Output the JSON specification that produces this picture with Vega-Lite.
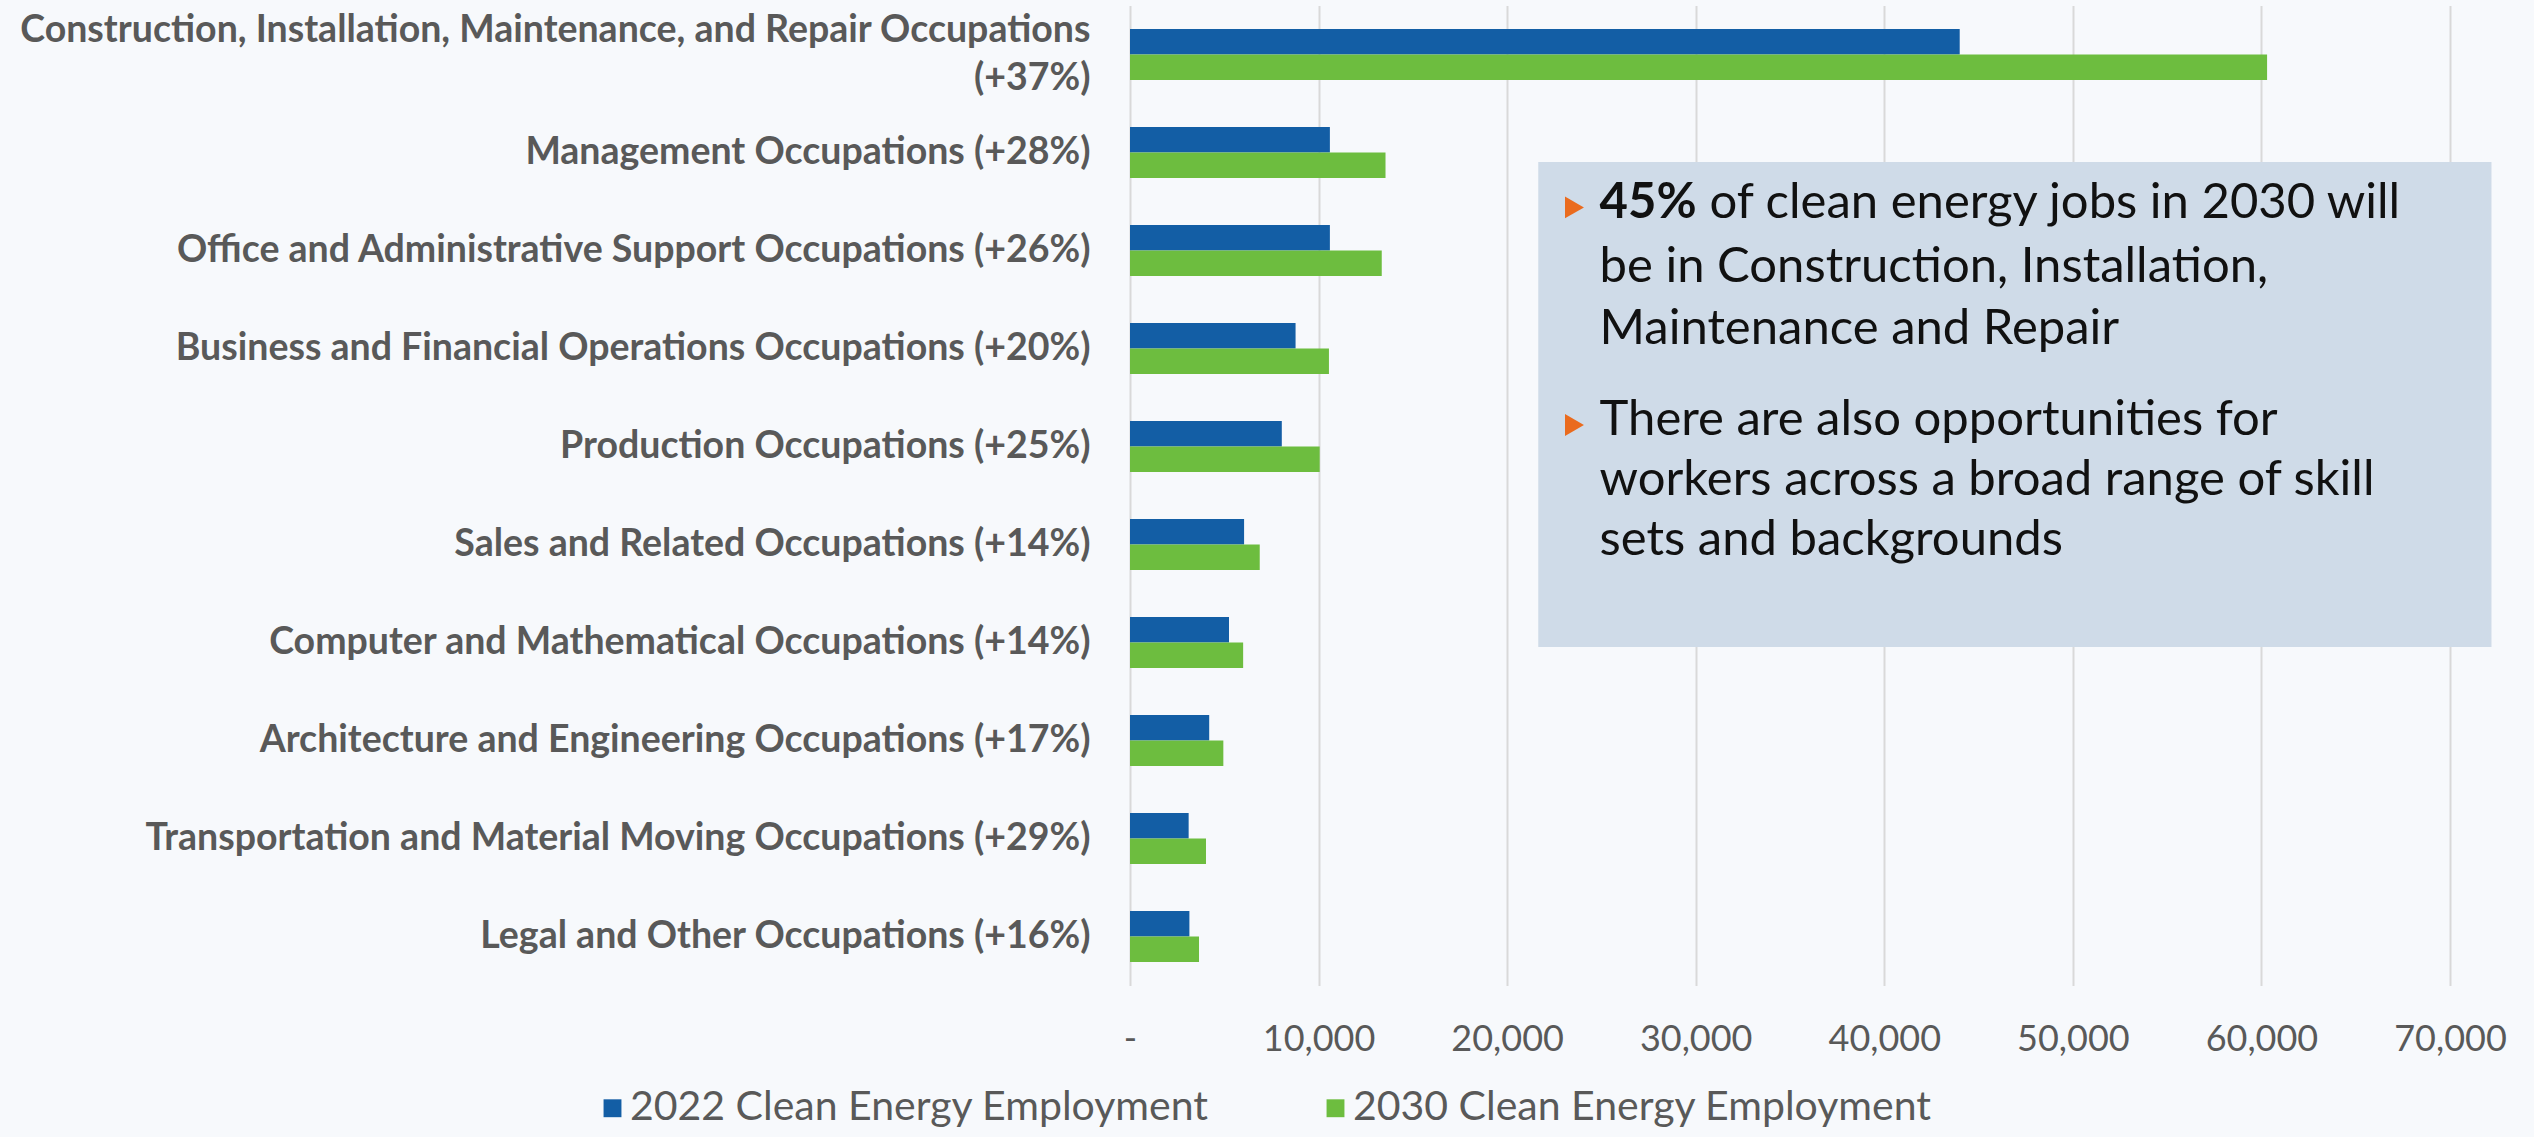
{
  "$schema": "https://vega.github.io/schema/vega-lite/v6.json",
  "width": 1320,
  "height": 980,
  "autosize": "none",
  "padding": {"left": 1130, "top": 5.5, "right": 84, "bottom": 151.5},
  "background": "#f7f9fc",
  "config": {"view": {"stroke": null}, "font": "Lato"},
  "resolve": {"scale": {"y": "independent"}},
  "layer": [
    {
      "data": {
        "values": [
          {"occupation": "Construction, Installation, Maintenance, and Repair Occupations (+37%)", "series": "2022 Clean Energy Employment", "value": 44000},
          {"occupation": "Construction, Installation, Maintenance, and Repair Occupations (+37%)", "series": "2030 Clean Energy Employment", "value": 60300},
          {"occupation": "Management Occupations (+28%)", "series": "2022 Clean Energy Employment", "value": 10600},
          {"occupation": "Management Occupations (+28%)", "series": "2030 Clean Energy Employment", "value": 13550},
          {"occupation": "Office and Administrative Support Occupations (+26%)", "series": "2022 Clean Energy Employment", "value": 10600},
          {"occupation": "Office and Administrative Support Occupations (+26%)", "series": "2030 Clean Energy Employment", "value": 13350},
          {"occupation": "Business and Financial Operations Occupations (+20%)", "series": "2022 Clean Energy Employment", "value": 8780},
          {"occupation": "Business and Financial Operations Occupations (+20%)", "series": "2030 Clean Energy Employment", "value": 10550},
          {"occupation": "Production Occupations (+25%)", "series": "2022 Clean Energy Employment", "value": 8050},
          {"occupation": "Production Occupations (+25%)", "series": "2030 Clean Energy Employment", "value": 10060},
          {"occupation": "Sales and Related Occupations (+14%)", "series": "2022 Clean Energy Employment", "value": 6050},
          {"occupation": "Sales and Related Occupations (+14%)", "series": "2030 Clean Energy Employment", "value": 6880},
          {"occupation": "Computer and Mathematical Occupations (+14%)", "series": "2022 Clean Energy Employment", "value": 5250},
          {"occupation": "Computer and Mathematical Occupations (+14%)", "series": "2030 Clean Energy Employment", "value": 6000},
          {"occupation": "Architecture and Engineering Occupations (+17%)", "series": "2022 Clean Energy Employment", "value": 4200},
          {"occupation": "Architecture and Engineering Occupations (+17%)", "series": "2030 Clean Energy Employment", "value": 4950},
          {"occupation": "Transportation and Material Moving Occupations (+29%)", "series": "2022 Clean Energy Employment", "value": 3110},
          {"occupation": "Transportation and Material Moving Occupations (+29%)", "series": "2030 Clean Energy Employment", "value": 4030},
          {"occupation": "Legal and Other Occupations (+16%)", "series": "2022 Clean Energy Employment", "value": 3150},
          {"occupation": "Legal and Other Occupations (+16%)", "series": "2030 Clean Energy Employment", "value": 3660}
        ]
      },
      "mark": {"type": "bar"},
      "encoding": {
        "y": {
          "field": "occupation",
          "type": "nominal",
          "sort": null,
          "scale": {"paddingInner": 0.48, "paddingOuter": 0.24},
          "axis": {
            "title": null,
            "ticks": false,
            "domain": false,
            "labelFont": "Lato",
            "labelFontWeight": "bold",
            "labelFontSize": 37.5,
            "labelColor": "#595959",
            "labelPadding": 40,
            "labelLimit": 1200,
            "labelLineHeight": 48,
            "labelOffset": {"condition": {"test": "indexof(datum.label, 'Construction') === 0", "value": -24}, "value": 0},
            "labelExpr": "indexof(datum.label, 'Construction') === 0 ? ['Construction, Installation, Maintenance, and Repair Occupations', '(+37%)'] : datum.label"
          }
        },
        "x": {
          "field": "value",
          "type": "quantitative",
          "scale": {"domain": [0, 70000], "nice": false},
          "axis": {
            "title": null,
            "values": [0, 10000, 20000, 30000, 40000, 50000, 60000, 70000],
            "labelExpr": "datum.value === 0 ? '-' : format(datum.value, ',')",
            "ticks": false,
            "domain": false,
            "grid": true,
            "gridColor": "#d9d9d9",
            "gridWidth": 2,
            "labelFlush": false,
            "labelFont": "Lato",
            "labelFontSize": 36,
            "labelColor": "#595959",
            "labelPadding": 37
          }
        },
        "yOffset": {
          "field": "series",
          "type": "nominal",
          "scale": {"paddingInner": 0, "paddingOuter": 0}
        },
        "color": {
          "field": "series",
          "type": "nominal",
          "scale": {
            "domain": ["2022 Clean Energy Employment", "2030 Clean Energy Employment"],
            "range": ["#135ea5", "#6dbd3f"]
          },
          "legend": {
            "title": null,
            "orient": "none",
            "direction": "horizontal",
            "legendX": -538,
            "legendY": 1082,
            "symbolType": "square",
            "symbolSize": 320,
            "symbolStrokeWidth": 0,
            "labelFont": "Lato",
            "labelFontSize": 41,
            "labelColor": "#595959",
            "labelOffset": -3,
            "labelLimit": 800,
            "columnPadding": 106
          }
        }
      }
    },
    {
      "data": {"values": [{}]},
      "mark": {"type": "rect", "color": "#cfdbe8"},
      "encoding": {
        "x": {"datum": 21650, "type": "quantitative", "scale": {"domain": [0, 70000], "nice": false}},
        "x2": {"datum": 72200},
        "y": {"datum": 1.597, "type": "quantitative", "scale": {"domain": [0, 10], "reverse": true, "nice": false, "zero": false}, "axis": null},
        "y2": {"datum": 6.546}
      }
    },
    {
      "data": {"values": [{}]},
      "mark": {"type": "point", "shape": "triangle-right", "filled": true, "color": "#ea6b1e", "opacity": 1, "size": 480},
      "encoding": {
        "x": {"datum": 23570, "type": "quantitative", "scale": {"domain": [0, 70000], "nice": false}},
        "y": {"datum": 2.06, "type": "quantitative", "scale": {"domain": [0, 10], "reverse": true, "nice": false, "zero": false}, "axis": null}
      }
    },
    {
      "data": {"values": [{}]},
      "mark": {"type": "point", "shape": "triangle-right", "filled": true, "color": "#ea6b1e", "opacity": 1, "size": 480},
      "encoding": {
        "x": {"datum": 23570, "type": "quantitative", "scale": {"domain": [0, 70000], "nice": false}},
        "y": {"datum": 4.28, "type": "quantitative", "scale": {"domain": [0, 10], "reverse": true, "nice": false, "zero": false}, "axis": null}
      }
    },
    {
      "data": {"values": [{}]},
      "mark": {"type": "text", "text": "45%", "font": "Lato", "fontWeight": "bold", "fontSize": 49, "color": "#111111", "align": "left", "baseline": "middle"},
      "encoding": {
        "x": {"datum": 24900, "type": "quantitative", "scale": {"domain": [0, 70000], "nice": false}},
        "y": {"datum": 2.011, "type": "quantitative", "scale": {"domain": [0, 10], "reverse": true, "nice": false, "zero": false}, "axis": null}
      }
    },
    {
      "data": {"values": [{}]},
      "mark": {"type": "text", "text": "of clean energy jobs in 2030 will", "font": "Lato", "fontSize": 49, "color": "#111111", "align": "left", "baseline": "middle", "dx": 110},
      "encoding": {
        "x": {"datum": 24900, "type": "quantitative", "scale": {"domain": [0, 70000], "nice": false}},
        "y": {"datum": 2.011, "type": "quantitative", "scale": {"domain": [0, 10], "reverse": true, "nice": false, "zero": false}, "axis": null}
      }
    },
    {
      "data": {"values": [{}]},
      "mark": {"type": "text", "text": ["be in Construction, Installation,", "Maintenance and Repair"], "font": "Lato", "fontSize": 49, "lineHeight": 62, "color": "#111111", "align": "left", "baseline": "middle"},
      "encoding": {
        "x": {"datum": 24900, "type": "quantitative", "scale": {"domain": [0, 70000], "nice": false}},
        "y": {"datum": 2.668, "type": "quantitative", "scale": {"domain": [0, 10], "reverse": true, "nice": false, "zero": false}, "axis": null}
      }
    },
    {
      "data": {"values": [{}]},
      "mark": {"type": "text", "text": ["There are also opportunities for", "workers across a broad range of skill", "sets and backgrounds"], "font": "Lato", "fontSize": 49, "lineHeight": 60, "color": "#111111", "align": "left", "baseline": "middle"},
      "encoding": {
        "x": {"datum": 24900, "type": "quantitative", "scale": {"domain": [0, 70000], "nice": false}},
        "y": {"datum": 4.23, "type": "quantitative", "scale": {"domain": [0, 10], "reverse": true, "nice": false, "zero": false}, "axis": null}
      }
    }
  ]
}
